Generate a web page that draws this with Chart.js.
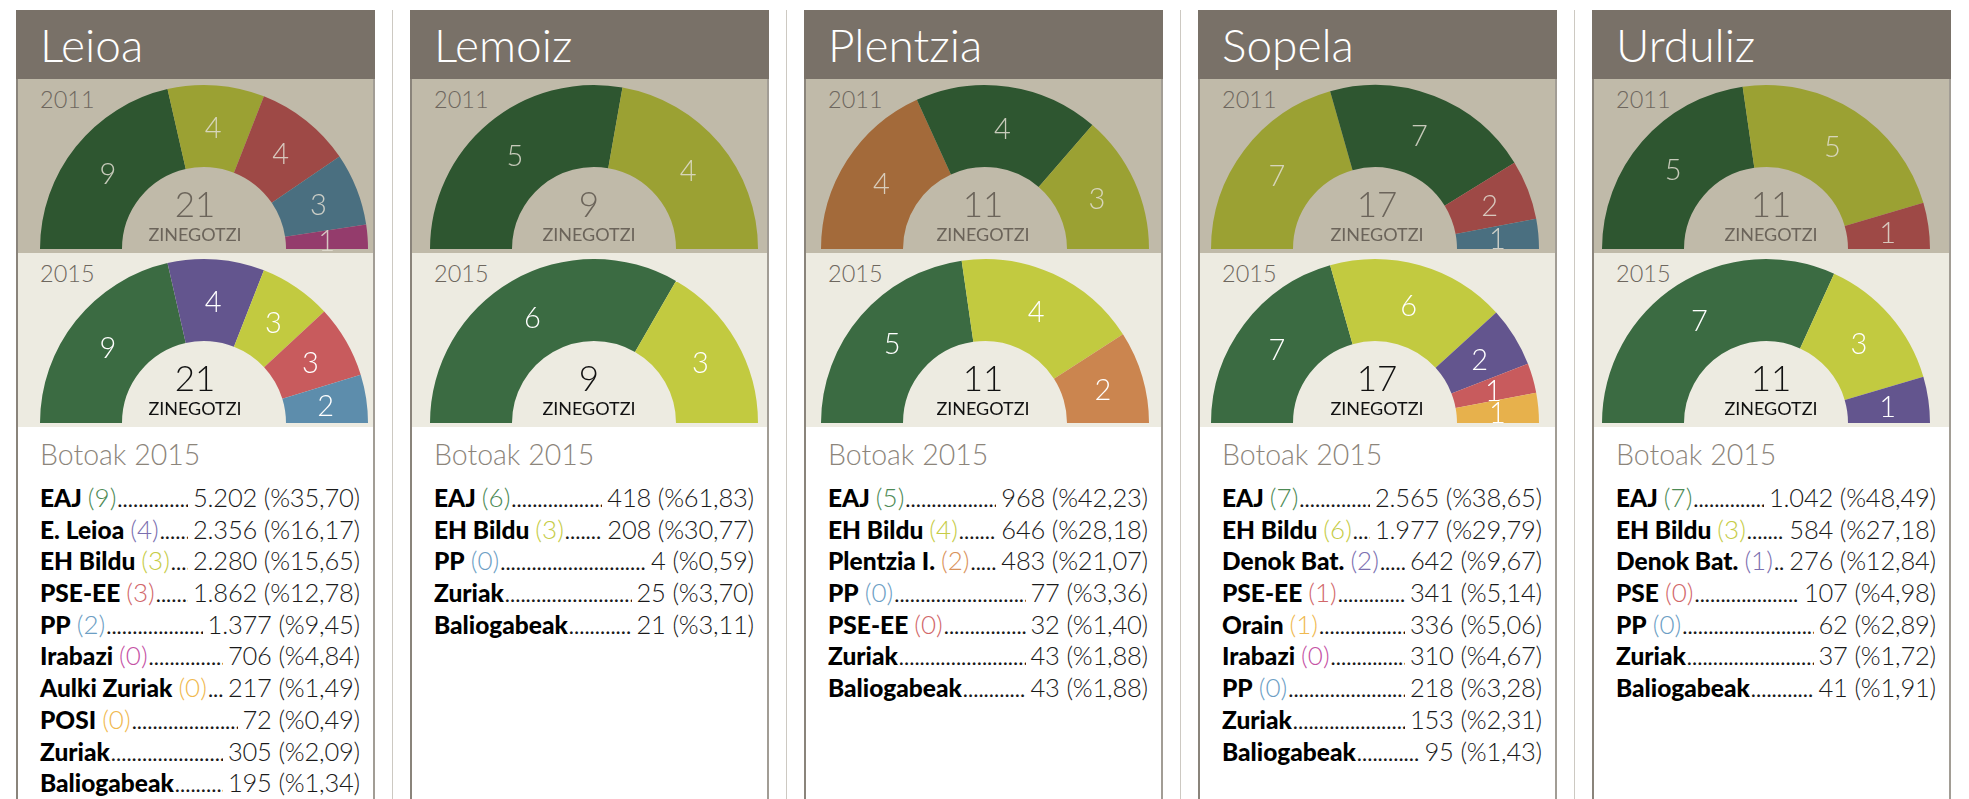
<!DOCTYPE html>
<html>
<head>
<meta charset="utf-8">
<script src="https://cdn.jsdelivr.net/npm/chart.js@4.4.1/dist/chart.umd.min.js"></script>
<style>
  html, body { margin: 0; padding: 0; background: #fff; }
  body { width: 1969px; height: 799px; overflow: hidden; position: relative; font-family: Lato, "Open Sans", sans-serif; }
  .panela { position: absolute; top: 10px; width: 359px; height: 800px; background: #fff; }
  .goiburua { position: absolute; left: 0; top: 0; width: 359px; height: 69px; background: #797168; }
  .izena { position: absolute; left: 24px; top: 12px; font-size: 46px; line-height: 1; font-weight: 300; color: #fff; }
  .banda { position: absolute; left: 0; width: 359px; height: 174px; overflow: hidden; }
  .b2011 { top: 69px; background: #c0baa9; }
  .b2015 { top: 243px; background: #edebe1; }
  .banda canvas { position: absolute; top: 0; }
  .urtea { position: absolute; left: 24px; top: 9px; font-size: 23.5px; line-height: 1; font-weight: 300; color: #6e675e; }
  .guztira { position: absolute; left: 79px; width: 200px; text-align: center; line-height: 1; }
  .guztira .zb { position: absolute; left: 0; width: 200px; top: 107px; font-size: 35px; font-weight: 300; }
  .guztira .zin { position: absolute; left: 0; width: 200px; top: 146px; font-size: 18px; font-weight: 400; }
  .b2011 .guztira { color: #6b645a; }
  .b2015 .guztira { color: #111; }
  .lerroa { position: absolute; top: 0; width: 2px; height: 800px; }
  .ezk { left: 0; background: #8a847b; }
  .esk { right: 0; background: #a29d95; }
  .bereizle { position: absolute; top: 10px; width: 1px; height: 800px; background: #cdc9c2; }
  .botoak { position: absolute; left: 24px; top: 430px; font-size: 28.5px; line-height: 1; font-weight: 300; color: #8c857b; }
  .zerrenda { position: absolute; left: 24px; right: 15px; top: 472px; }
  .errenkada { display: flex; align-items: baseline; height: 31.7px; line-height: 31.7px; font-size: 25px; white-space: nowrap; color: #1a1a1a; }
  .errenkada b { font-weight: 900; color: #000; font-size: 24.5px; }
  .errenkada .eser { font-weight: 300; margin-left: 6px; font-size: 26px; }
  .errenkada .puntuak { flex: 1; overflow: hidden; font-weight: 400; margin: 0 5px 0 1px; font-size: 22px; }
  .errenkada .balioa { font-weight: 300; font-size: 25.5px; letter-spacing: -0.2px; }
</style>
</head>
<body>
<script>
// herriak eta zinegotziak (ezkerretik eskuinera)
const herriak = ["Leioa", "Lemoiz", "Plentzia", "Sopela", "Urduliz"];

const alderdiak2011 = [
  ["EAJ", "Bildu", "PSE", "PP", "EB"],
  ["EAJ", "Bildu"],
  ["PI", "EAJ", "Bildu"],
  ["Bildu", "EAJ", "PSE", "PP"],
  ["EAJ", "Bildu", "PSE"]
];
const eserlekuak2011 = [[9, 4, 4, 3, 1], [5, 4], [4, 4, 3], [7, 7, 2, 1], [5, 5, 1]];

const alderdiak2015 = [
  ["EAJ", "Lokala", "Bildu", "PSE", "PP"],
  ["EAJ", "Bildu"],
  ["EAJ", "Bildu", "PI"],
  ["EAJ", "Bildu", "Lokala", "PSE", "Orain"],
  ["EAJ", "Bildu", "Lokala"]
];
const eserlekuak2015 = [[9, 4, 3, 3, 2], [6, 3], [5, 4, 2], [7, 6, 2, 1, 1], [7, 3, 1]];

// Botoak 2015: [izena, eserlekuak, botoak, ehunekoa, kolore-gakoa]
const botoakLeioa = [
  ["EAJ", 9, 5202, 35.70, "EAJ"],
  ["E. Leioa", 4, 2356, 16.17, "Lokala"],
  ["EH Bildu", 3, 2280, 15.65, "Bildu"],
  ["PSE-EE", 3, 1862, 12.78, "PSE"],
  ["PP", 2, 1377, 9.45, "PP"],
  ["Irabazi", 0, 706, 4.84, "EB"],
  ["Aulki Zuriak", 0, 217, 1.49, "Orain"],
  ["POSI", 0, 72, 0.49, "Orain"],
  ["Zuriak", null, 305, 2.09, null],
  ["Baliogabeak", null, 195, 1.34, null]
];
const botoakLemoiz = [
  ["EAJ", 6, 418, 61.83, "EAJ"],
  ["EH Bildu", 3, 208, 30.77, "Bildu"],
  ["PP", 0, 4, 0.59, "PP"],
  ["Zuriak", null, 25, 3.70, null],
  ["Baliogabeak", null, 21, 3.11, null]
];
const botoakPlentzia = [
  ["EAJ", 5, 968, 42.23, "EAJ"],
  ["EH Bildu", 4, 646, 28.18, "Bildu"],
  ["Plentzia I.", 2, 483, 21.07, "PI"],
  ["PP", 0, 77, 3.36, "PP"],
  ["PSE-EE", 0, 32, 1.40, "PSE"],
  ["Zuriak", null, 43, 1.88, null],
  ["Baliogabeak", null, 43, 1.88, null]
];
const botoakSopela = [
  ["EAJ", 7, 2565, 38.65, "EAJ"],
  ["EH Bildu", 6, 1977, 29.79, "Bildu"],
  ["Denok Bat.", 2, 642, 9.67, "Lokala"],
  ["PSE-EE", 1, 341, 5.14, "PSE"],
  ["Orain", 1, 336, 5.06, "Orain"],
  ["Irabazi", 0, 310, 4.67, "EB"],
  ["PP", 0, 218, 3.28, "PP"],
  ["Zuriak", null, 153, 2.31, null],
  ["Baliogabeak", null, 95, 1.43, null]
];
const botoakUrduliz = [
  ["EAJ", 7, 1042, 48.49, "EAJ"],
  ["EH Bildu", 3, 584, 27.18, "Bildu"],
  ["Denok Bat.", 1, 276, 12.84, "Lokala"],
  ["PSE", 0, 107, 4.98, "PSE"],
  ["PP", 0, 62, 2.89, "PP"],
  ["Zuriak", null, 37, 1.72, null],
  ["Baliogabeak", null, 41, 1.91, null]
];
const botoak = [botoakLeioa, botoakLemoiz, botoakPlentzia, botoakSopela, botoakUrduliz];

// koloreak
const kolore2011 = { EAJ: "#2e5630", Bildu: "#9ba133", PSE: "#9e4946", PP: "#4a6f80", EB: "#943c6c", PI: "#a36a3a" };
const kolore2015 = { EAJ: "#3b6b42", Bildu: "#c2ca40", PSE: "#c85b5d", PP: "#5d8dac", Lokala: "#63558e", PI: "#cb854f", Orain: "#e7b14c" };
const koloreZerrenda = { EAJ: "#4d8a55", Bildu: "#c6cc46", PSE: "#d1676a", PP: "#6c9ec4", Lokala: "#7b6fb0", EB: "#c552a5", PI: "#d9925a", Orain: "#f0b94f" };

// grafikoen posizioa panel bakoitzean (ez dira denak zentratuta)
const grafikoEzkerra = [24, 20, 17, 13, 10];

const etiketak = {
  id: "etiketak",
  afterDatasetsDraw(chart, args, opts) {
    const ctx = chart.ctx;
    const meta = chart.getDatasetMeta(0);
    const balioak = chart.data.datasets[0].data;
    ctx.save();
    ctx.font = "300 29px Lato, 'Open Sans', sans-serif";
    ctx.fillStyle = opts.kolorea;
    ctx.textAlign = "center";
    ctx.textBaseline = "middle";
    meta.data.forEach(function (arc, i) {
      const p = arc.tooltipPosition();
      ctx.fillText(String(balioak[i]), p.x, p.y + 2);
    });
    ctx.restore();
  }
};

function marraztu(canvas, alderdiak, eserlekuak, koloreak, testuKolorea) {
  new Chart(canvas, {
    type: "doughnut",
    data: {
      labels: alderdiak,
      datasets: [{
        data: eserlekuak,
        backgroundColor: alderdiak.map(a => koloreak[a]),
        borderWidth: 0
      }]
    },
    options: {
      responsive: false,
      animation: false,
      events: [],
      rotation: -90,
      circumference: 180,
      cutout: "50%",
      layout: { padding: { top: 6, bottom: 4, left: 0, right: 0 } },
      plugins: {
        legend: { display: false },
        tooltip: { enabled: false },
        etiketak: { kolorea: testuKolorea }
      }
    },
    plugins: [etiketak]
  });
}

function formatua(n) {
  return n.toString().replace(/\B(?=(\d{3})+(?!\d))/g, ".");
}

const PUNTUAK = ".".repeat(120);

herriak.forEach(function (herria, i) {
  const ezk = 16 + 394 * i;
  const p = document.createElement("div");
  p.className = "panela";
  p.style.left = ezk + "px";

  const totala = eserlekuak2015[i].reduce((a, b) => a + b, 0);
  const totala11 = eserlekuak2011[i].reduce((a, b) => a + b, 0);

  p.innerHTML =
    '<div class="banda b2011"><div class="urtea">2011</div><canvas width="330" height="174"></canvas>' +
    '<div class="guztira"><div class="zb">' + totala11 + '</div><div class="zin">ZINEGOTZI</div></div></div>' +
    '<div class="banda b2015"><div class="urtea">2015</div><canvas width="330" height="174"></canvas>' +
    '<div class="guztira"><div class="zb">' + totala + '</div><div class="zin">ZINEGOTZI</div></div></div>' +
    '<div class="lerroa ezk"></div><div class="lerroa esk"></div>' +
    '<div class="goiburua"><div class="izena">' + herria + '</div></div>' +
    '<div class="botoak">Botoak 2015</div>' +
    '<div class="zerrenda"></div>';

  const zerrenda = p.querySelector(".zerrenda");
  botoak[i].forEach(function (r) {
    const row = document.createElement("div");
    row.className = "errenkada";
    let html = "<b>" + r[0] + "</b>";
    if (r[1] !== null) {
      html += '<span class="eser" style="color:' + koloreZerrenda[r[4]] + '">(' + r[1] + ')</span>';
    }
    html += '<span class="puntuak">' + PUNTUAK + '</span>';
    html += '<span class="balioa">' + formatua(r[2]) + ' (%' + r[3].toFixed(2).replace(".", ",") + ')</span>';
    row.innerHTML = html;
    zerrenda.appendChild(row);
  });

  document.body.appendChild(p);

  if (i < herriak.length - 1) {
    const s = document.createElement("div");
    s.className = "bereizle";
    s.style.left = (392 + 394 * i) + "px";
    document.body.appendChild(s);
  }

  const canvases = p.querySelectorAll("canvas");
  canvases[0].style.left = (grafikoEzkerra[i] - 1) + "px";
  canvases[1].style.left = (grafikoEzkerra[i] - 1) + "px";
  marraztu(canvases[0], alderdiak2011[i], eserlekuak2011[i], kolore2011, "rgba(226,222,210,0.85)");
  marraztu(canvases[1], alderdiak2015[i], eserlekuak2015[i], kolore2015, "#ffffff");
});
</script>
</body>
</html>
